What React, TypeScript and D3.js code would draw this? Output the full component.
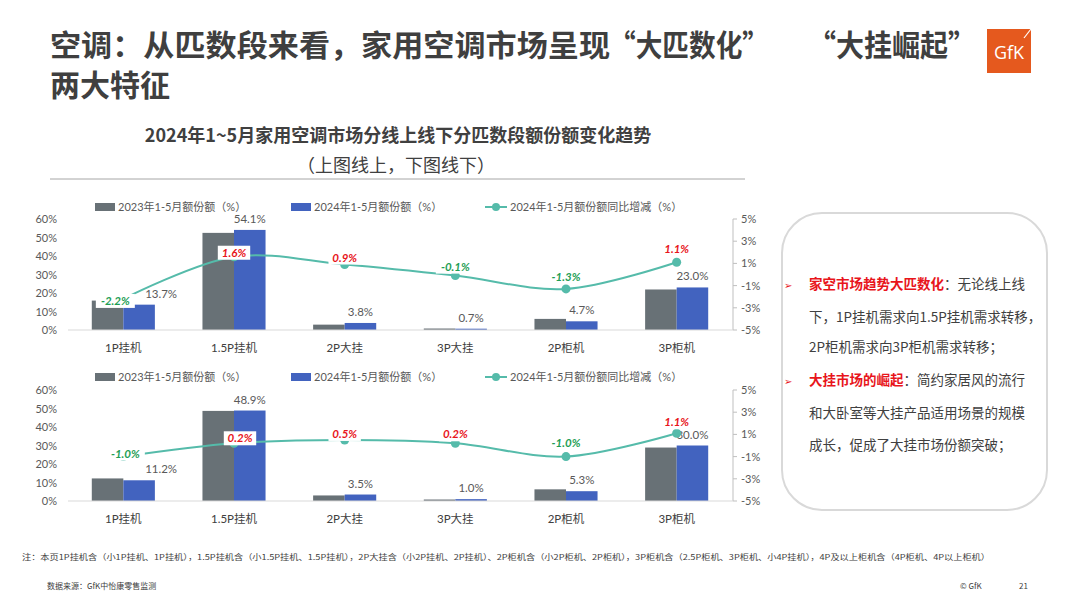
import React from "react";
import * as d3 from "d3";

const categories = ["1P挂机", "1.5P挂机", "2P大挂", "3P大挂", "2P柜机", "3P柜机"];
const online2023 = [15.9, 52.5, 2.9, 0.8, 6.0, 21.9];
const online2024 = [13.7, 54.1, 3.8, 0.7, 4.7, 23.0];
const onlineChange = [-2.2, 1.6, 0.9, -0.1, -1.3, 1.1];
const offline2023 = [12.2, 48.7, 3.0, 0.8, 6.3, 28.9];
const offline2024 = [11.2, 48.9, 3.5, 1.0, 5.3, 30.0];
const offlineChange = [-1.0, 0.2, 0.5, 0.2, -1.0, 1.1];
const leftTicks = [0, 10, 20, 30, 40, 50, 60];
const rightTicks = [-5, -3, -1, 1, 3, 5];
const legendLabels = ["2023年1-5月额份额（%）", "2024年1-5月额份额（%）", "2024年1-5月额份额同比增减（%）"];

// layout only (label nudges)
const onlineLabelNudge = [[-8, 2], [0, -4], [0, -7], [0, -9], [0, -12], [0, -13]];
const offlineLabelNudge = [[2, -3], [6, -5], [0, -6], [0, -9], [0, -14], [0, -11]];

const GRAY = "#687176";
const BLUE = "#4263BF";
const TEAL = "#55BBAA";
const RED = "#E8151B";
const GREEN = "#1E9E55";
const FONT = "Lato, 'Noto Sans CJK SC', sans-serif";
const CJK = "'Noto Sans CJK SC', sans-serif";

function Panel({ top, bottom, legendY, catY, v23, v24, chg, nudge }) {
  const x = d3.scaleBand().domain(categories).range([68, 732]).paddingInner(0.43).paddingOuter(0.215);
  const xs = d3.scaleBand().domain(["a", "b"]).range([0, x.bandwidth()]);
  const yL = d3.scaleLinear().domain([0, 60]).range([bottom, top]);
  const yR = d3.scaleLinear().domain([-5, 5]).range([bottom, top]);
  const cx = (c) => x(c) + x.bandwidth() / 2;
  const linePts = categories.map((c, i) => [cx(c), yR(chg[i])]);
  const line = d3.line().curve(d3.curveCatmullRom.alpha(0.5))(linePts);
  return (
    <g>
      <g fontFamily={FONT} fontSize={11} fill="#595959">
        <rect x={95} y={legendY - 4} width={20} height={8} fill={GRAY} />
        <text x={118} y={legendY + 4}>{legendLabels[0]}</text>
        <rect x={291} y={legendY - 4} width={20} height={8} fill={BLUE} />
        <text x={314} y={legendY + 4}>{legendLabels[1]}</text>
        <line x1={485} x2={507} y1={legendY} y2={legendY} stroke={TEAL} strokeWidth={2} />
        <circle cx={496} cy={legendY} r={4} fill={TEAL} />
        <text x={510} y={legendY + 4}>{legendLabels[2]}</text>
      </g>
      <g fontFamily={FONT} fontSize={11} fill="#595959">
        {leftTicks.map((t) => (
          <text key={t} x={57} y={yL(t) + 4} textAnchor="end">{t}%</text>
        ))}
      </g>
      <line x1={733} x2={733} y1={top} y2={bottom} stroke="#BFBFBF" />
      {rightTicks.map((t) => (
        <g key={t}>
          <line x1={733} x2={737} y1={yR(t)} y2={yR(t)} stroke="#BFBFBF" />
          <text x={741} y={yR(t) + 4} fontFamily={FONT} fontSize={11} fill="#595959">{t}%</text>
        </g>
      ))}
      {categories.map((c, i) => (
        <g key={c}>
          <rect x={x(c) + xs("a")} y={yL(v23[i])} width={xs.bandwidth()} height={bottom - yL(v23[i])} fill={GRAY} />
          <rect x={x(c) + xs("b")} y={yL(v24[i])} width={xs.bandwidth()} height={bottom - yL(v24[i])} fill={BLUE} />
        </g>
      ))}
      <line x1={68} x2={733} y1={bottom} y2={bottom} stroke="#D9D9D9" />
      {categories.map((c, i) => (
        <text key={c} x={x(c) + xs("b") + xs.bandwidth() / 2 + (i === 0 ? 22 : 0)} y={yL(v24[i]) - 7}
          textAnchor="middle" fontFamily={FONT} fontSize={11.5} fill="#595959">{v24[i].toFixed(1)}%</text>
      ))}
      {categories.map((c) => (
        <text key={c} x={cx(c)} y={catY} textAnchor="middle" fontFamily={FONT} fontSize={11.5} fill="#404040">{c}</text>
      ))}
      <path d={line} fill="none" stroke={TEAL} strokeWidth={2} />
      {linePts.map((p, i) => (
        <circle key={i} cx={p[0]} cy={p[1]} r={4.5} fill={TEAL} />
      ))}
      {linePts.map((p, i) => {
        const lx = p[0] + nudge[i][0];
        const ly = p[1] + nudge[i][1];
        const s = chg[i].toFixed(1) + "%";
        const w = s.length * 6.6 + 6;
        return (
          <g key={i}>
            <rect x={lx - w / 2} y={ly - 7} width={w} height={14} fill="#fff" />
            <text x={lx} y={ly + 4} textAnchor="middle" fontFamily={FONT} fontSize={11.5} fontWeight="bold"
              fontStyle="italic" fill={chg[i] > 0 ? RED : GREEN}>{s}</text>
          </g>
        );
      })}
    </g>
  );
}

export default function App() {
  return (
    <div style={{ position: "absolute", left: 0, top: 0 }}>
      <svg width={1080} height={608} viewBox="0 0 1080 608" style={{ display: "block", background: "#fff" }}>
        <rect width={1080} height={608} fill="#fff" />
        <g fontFamily={CJK} fontWeight="bold" fontSize={30} fill="#3F3F3F">
          <text x={50} y={56} textLength={560} lengthAdjust="spacingAndGlyphs">空调：从匹数段来看，家用空调市场呈现</text>
          <text x={609} y={56} textLength={160} lengthAdjust="spacingAndGlyphs">“大匹数化”</text>
          <text x={808} y={56} textLength={168} lengthAdjust="spacingAndGlyphs">“大挂崛起”</text>
          <text x={50} y={96}>两大特征</text>
        </g>
        <rect x={987} y={29} width={44} height={44} fill="#E5591E" />
        <line x1={1024} y1={38} x2={1031} y2={29} stroke="#fff" strokeWidth={1.2} />
        <text x={1009} y={59} textAnchor="middle" fontFamily="'Open Sans', sans-serif" fontSize={18} fill="#fff">GfK</text>
        <text x={398} y={142} textAnchor="middle" fontFamily={CJK} fontWeight="bold" fontSize={18} fill="#404040">
          2024年1~5月家用空调市场分线上线下分匹数段额份额变化趋势
        </text>
        <text x={396} y={172} textAnchor="middle" fontFamily={CJK} fontSize={18} fill="#404040">（上图线上，下图线下）</text>
        <line x1={50} x2={745} y1={179} y2={179} stroke="#A6A6A6" />
        <Panel top={219} bottom={330} legendY={207} catY={352} v23={online2023} v24={online2024} chg={onlineChange} nudge={onlineLabelNudge} />
        <Panel top={390} bottom={501} legendY={377} catY={523} v23={offline2023} v24={offline2024} chg={offlineChange} nudge={offlineLabelNudge} />
        <rect x={782} y={213} width={265} height={297} rx={40} ry={40} fill="#fff" stroke="#D9D9D9" strokeWidth={2} />
        <g fontFamily={CJK} fontSize={13.5} fill="#404040">
          <text x={784} y={289} fill={RED} fontSize={10}>➢</text>
          <text x={809} y={289}><tspan fill={RED} fontWeight="bold">家空市场趋势大匹数化</tspan>：无论线上线</text>
          <text x={809} y={322}>下，1P挂机需求向1.5P挂机需求转移，</text>
          <text x={809} y={352}>2P柜机需求向3P柜机需求转移；</text>
          <text x={784} y={385} fill={RED} fontSize={10}>➢</text>
          <text x={809} y={385}><tspan fill={RED} fontWeight="bold">大挂市场的崛起</tspan>：简约家居风的流行</text>
          <text x={809} y={418}>和大卧室等大挂产品适用场景的规模</text>
          <text x={809} y={450}>成长，促成了大挂市场份额突破；</text>
        </g>
        <text x={22} y={560} fontFamily={CJK} fontSize={8} fill="#404040" textLength={968} lengthAdjust="spacingAndGlyphs">
          注：本页1P挂机含（小1P挂机、1P挂机），1.5P挂机含（小1.5P挂机、1.5P挂机），2P大挂含（小2P挂机、2P挂机）、2P柜机含（小2P柜机、2P柜机），3P柜机含（2.5P柜机、3P柜机、小4P挂机），4P及以上柜机含（4P柜机、4P以上柜机）
        </text>
        <text x={47} y={589} fontFamily={CJK} fontSize={8} fill="#404040">数据来源：GfK中怡康零售监测</text>
        <text x={960} y={589} fontFamily={CJK} fontSize={8} fill="#404040">© GfK</text>
        <text x={1019} y={589} fontFamily={CJK} fontSize={8} fill="#404040">21</text>
      </svg>
    </div>
  );
}
